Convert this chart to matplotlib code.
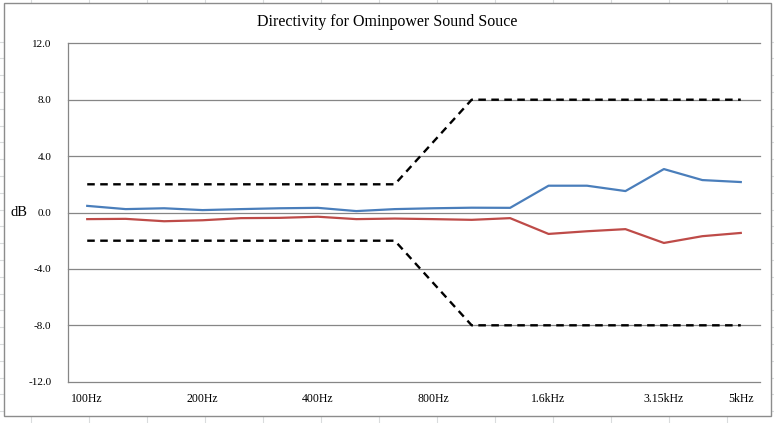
import matplotlib
matplotlib.use('Agg')
import matplotlib.pyplot as plt
from matplotlib.lines import Line2D
from matplotlib.patches import Rectangle
import numpy as np

bands = ['100Hz', '125Hz', '160Hz', '200Hz', '250Hz', '315Hz', '400Hz',
         '500Hz', '630Hz', '800Hz', '1kHz', '1.25kHz', '1.6kHz', '2kHz',
         '2.5kHz', '3.15kHz', '4kHz', '5kHz']
shown_labels = ['100Hz', '200Hz', '400Hz', '800Hz', '1.6kHz', '3.15kHz', '5kHz']

series_a = [0.47, 0.24, 0.30, 0.17, 0.24, 0.30, 0.33, 0.10, 0.24, 0.30,
            0.34, 0.33, 1.90, 1.90, 1.52, 3.08, 2.30, 2.16]
series_b = [-0.47, -0.45, -0.62, -0.55, -0.40, -0.38, -0.30, -0.47, -0.43,
            -0.47, -0.52, -0.40, -1.52, -1.33, -1.18, -2.16, -1.68, -1.45]
upper_limit = [2, 2, 2, 2, 2, 2, 2, 2, 2, 5, 8, 8, 8, 8, 8, 8, 8, 8]
lower_limit = [-2, -2, -2, -2, -2, -2, -2, -2, -2, -5, -8, -8, -8, -8, -8,
               -8, -8, -8]

y_ticks = [-12, -8, -4, 0, 4, 8, 12]

W, H = 774, 423
fig = plt.figure(figsize=(W / 100, H / 100), dpi=100)
plt.rcParams['font.family'] = ['Liberation Serif', 'DejaVu Serif']

# spreadsheet cell lines behind the chart
for x in np.arange(31, W, 58.0):
    fig.add_artist(Line2D([x / W, x / W], [0, 1], color='#dadcdd', lw=0.8,
                          transform=fig.transFigure, zorder=0))
for y in np.arange(41.7, H, 16.8):
    fig.add_artist(Line2D([0, 1], [1 - y / H, 1 - y / H], color='#dadcdd',
                          lw=0.8, transform=fig.transFigure, zorder=0))
fig.add_artist(Rectangle((4 / W, 1 - 416 / H), 767 / W, 413 / H,
                         transform=fig.transFigure, facecolor='white',
                         edgecolor='#8c8c8c', lw=1.0, zorder=1))

ax = fig.add_axes([68 / W, 1 - 381.7 / H, 692 / W, 338.4 / H], zorder=2)
ax.set_facecolor('none')
x = np.arange(len(bands))

ax.plot(x, upper_limit, color='black', lw=1.7, dashes=(3.2, 2.3))
ax.plot(x, lower_limit, color='black', lw=1.7, dashes=(3.2, 2.3))
ax.plot(x, series_a, color='#4a7ebb', lw=1.6)
ax.plot(x, series_b, color='#be4b48', lw=1.6)

ax.set_xlim(-0.5, len(bands) - 0.5)
ax.set_ylim(-12, 12)
ax.set_yticks(y_ticks)
ax.set_yticklabels([f'{v:.1f}' for v in y_ticks], fontsize=8)
for v in y_ticks:
    ax.axhline(v, color='#868686', lw=0.9, clip_on=False, zorder=0.5)
ax.tick_params(axis='y', length=0, pad=12)

ax.set_xticks([bands.index(b) for b in shown_labels])
ax.set_xticklabels(shown_labels, fontsize=8.5)
ax.tick_params(axis='x', length=0, pad=8)

for side in ['top', 'right', 'bottom']:
    ax.spines[side].set_visible(False)
ax.spines['left'].set_color('#868686')
ax.spines['left'].set_linewidth(0.9)

fig.text(19 / W, 1 - 213 / H, 'dB', ha='center', va='center', fontsize=10.5,
         zorder=3)
fig.text(0.5, 1 - 21.7 / H, 'Directivity for Ominpower Sound Souce',
         ha='center', va='center', fontsize=11.5, zorder=3)

fig.savefig('out.png', dpi=100)
